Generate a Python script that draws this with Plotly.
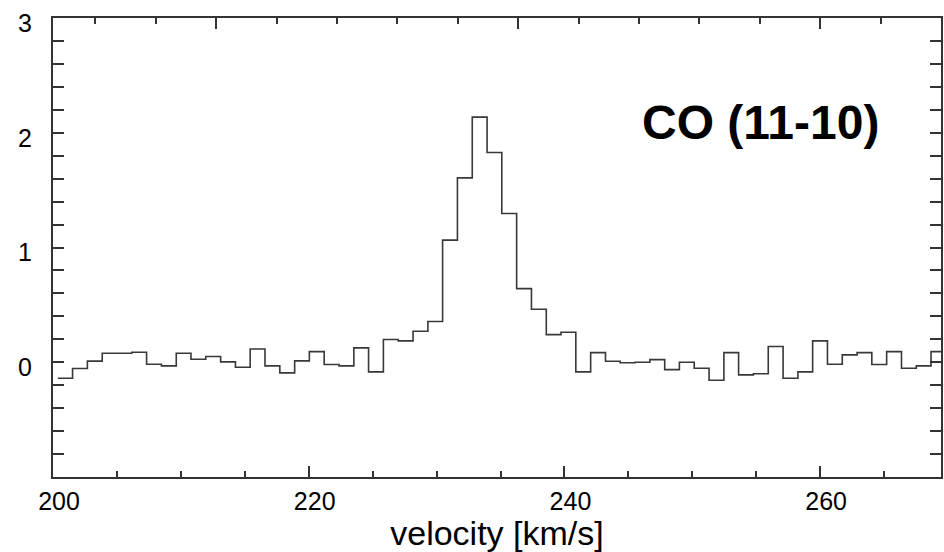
import plotly.graph_objects as go

# Channel left edges (km/s) plus final right edge
velocity_edges = [
    200.38, 201.53, 202.69, 203.85, 205.01, 206.16, 207.32, 208.48, 209.64, 210.79,
    211.95, 213.11, 214.27, 215.42, 216.58, 217.74, 218.90, 220.05, 221.21, 222.37,
    223.53, 224.68, 225.84, 227.00, 228.16, 229.32, 230.47, 231.63, 232.79, 233.95,
    235.10, 236.26, 237.42, 238.58, 239.73, 240.89, 242.05, 243.21, 244.36, 245.52,
    246.68, 247.84, 248.99, 250.15, 251.31, 252.47, 253.62, 254.78, 255.94, 257.10,
    258.26, 259.41, 260.57, 261.73, 262.89, 264.04, 265.20, 266.36, 267.52, 268.67,
    269.83,
]

# Intensity per channel
intensity = [
    -0.14, -0.055, 0.01, 0.078, 0.078, 0.087, -0.017, -0.032, 0.078, 0.026,
    0.05, 0.003, -0.044, 0.116, -0.032, -0.093, 0.012, 0.093, -0.02, -0.032,
    0.125, -0.084, 0.198, 0.186, 0.27, 0.355, 1.064, 1.607, 2.136, 1.828,
    1.296, 0.642, 0.462, 0.241, 0.262, -0.084, 0.084, 0.009, -0.005, 0.0,
    0.023, -0.064, 0.0, -0.052, -0.157, 0.084, -0.11, -0.10, 0.137, -0.14,
    -0.084, 0.186, -0.017, 0.064, 0.084, -0.02, 0.093, -0.052, -0.032, 0.093,
]

x_range = [200, 269.45]
y_range = [-1, 3]
x_tick_vals = [200, 220, 240, 260]
x_tick_text = ["200", "220", "240", "260"]
y_tick_vals = [0, 1, 2, 3]
y_tick_text = ["0", "1", "2", "3"]
top_axis_range = [-2.70, 12.0]

line_label = "CO (11-10)"
x_title = "velocity [km/s]"

FONT = "Arial, 'Liberation Sans', Helvetica, sans-serif"
AX = "#333333"

fig = go.Figure()
fig.add_trace(go.Scatter(
    x=velocity_edges,
    y=intensity + [intensity[-1]],
    mode="lines",
    line=dict(shape="hv", color="#383838", width=1.6),
    showlegend=False,
    hoverinfo="skip",
))
# invisible trace to carry the top axis
fig.add_trace(go.Scatter(
    x=top_axis_range, y=[None, None], xaxis="x2", mode="lines",
    showlegend=False, hoverinfo="skip",
))

fig.update_layout(
    width=944, height=552,
    margin=dict(l=53, r=1, t=18, b=75),
    paper_bgcolor="white", plot_bgcolor="white",
    font=dict(family=FONT, color="black"),
    xaxis=dict(
        range=x_range, showgrid=False, zeroline=False,
        showline=True, linecolor=AX, linewidth=2,
        ticks="inside", ticklen=11, tickwidth=2, tickcolor=AX,
        tickvals=x_tick_vals, ticktext=x_tick_text,
        tickfont=dict(size=25, family=FONT, color="black"),
        ticklabelstandoff=1, ticklabelshift=6,
        minor=dict(dtick=5, tick0=200, ticks="inside", ticklen=6,
                   tickwidth=2, tickcolor=AX, showgrid=False),
        title=dict(text=x_title, font=dict(size=34, family=FONT, color="black"),
                   standoff=7),
    ),
    xaxis2=dict(
        range=top_axis_range, overlaying="x", side="top",
        showgrid=False, zeroline=False, showticklabels=False,
        showline=True, linecolor=AX, linewidth=2,
        ticks="inside", ticklen=11, tickwidth=2, tickcolor=AX,
        dtick=5, tick0=0,
        minor=dict(dtick=1, tick0=0, ticks="inside", ticklen=6,
                   tickwidth=2, tickcolor=AX, showgrid=False),
    ),
    yaxis=dict(
        range=y_range, showgrid=False, zeroline=False,
        showline=True, linecolor=AX, linewidth=2, mirror="allticks",
        ticks="inside", ticklen=11, tickwidth=2, tickcolor=AX,
        tickvals=y_tick_vals, ticktext=y_tick_text,
        tickfont=dict(size=25, family=FONT, color="black"),
        ticklabelstandoff=14, ticklabelshift=5,
        ticklabeloverflow="allow",
        minor=dict(dtick=0.2, tick0=0, ticks="inside", ticklen=6,
                   tickwidth=2, tickcolor=AX, showgrid=False),
    ),
    annotations=[dict(
        text="<b>" + line_label + "</b>",
        xref="paper", yref="paper", x=0.7966, y=0.772,
        xanchor="center", yanchor="middle", showarrow=False,
        font=dict(size=48, family=FONT, color="black"),
    )],
)

fig.write_html("out.html")
